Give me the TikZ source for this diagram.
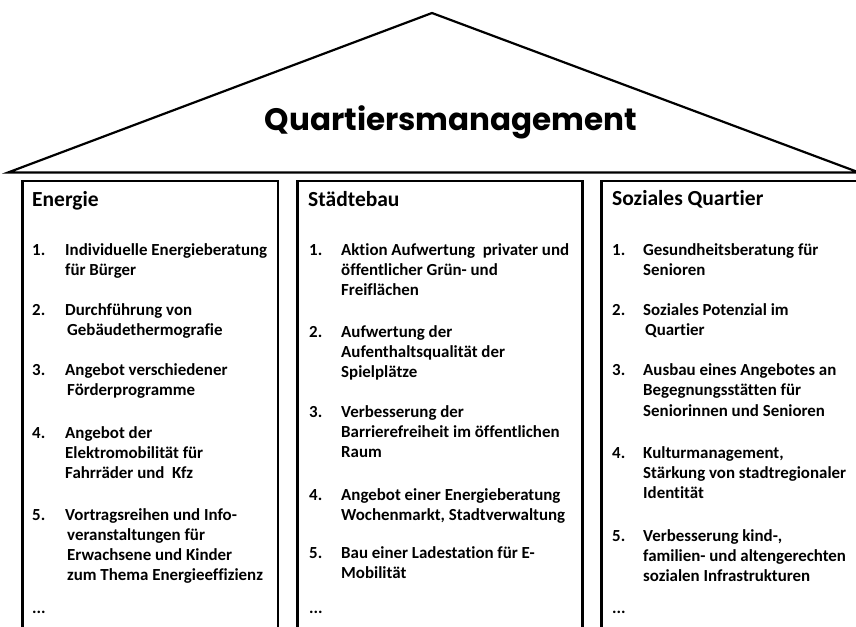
\documentclass[tikz,border=0pt]{standalone}
\usepackage{fontspec}
\setmainfont{Carlito}[Ligatures=CommonOff]
\newfontfamily\titlefont{Poppins}
\tikzset{
  roof/.style={draw=black, line width=2.2pt, line join=miter},
  pillar/.style={draw=black, line width=2.8pt},
  head/.style={anchor=base west, inner sep=0pt, font=\fontsize{21.5}{24}\selectfont\bfseries},
  itm/.style={anchor=base west, inner sep=0pt, font=\fontsize{16.9}{20}\selectfont\bfseries},
  ttl/.style={anchor=base, inner sep=0pt, font=\titlefont\bfseries\fontsize{31}{36}\selectfont}
}
\newcommand{\qln}[4]{\node[itm] (#1) at (#2,#3) {#4};}
\begin{document}
\begin{tikzpicture}[x=1pt,y=-1pt]
\useasboundingbox (0,0) rectangle (856,626);
\clip (0,0) rectangle (856,626);
\fill[white] (0,0) rectangle (856,626);
% roof
\coordinate (rl) at (8,172.5);
\coordinate (ra) at (432,13);
\coordinate (rr) at (859,172.5);
\draw[roof] (rl) -- (ra) -- (rr) -- cycle;
\node[ttl] (title) at (451,130) {Quartiersmanagement};
% pillars
\draw[pillar] (22.5,181) rectangle (278,660);
\draw[pillar] (297.5,181) rectangle (582.5,660);
\draw[pillar] (601.5,181) rectangle (880,660);
% Box 1
\node[head] (h1) at (32,206) {Energie};
\qln{a1n}{32}{255}{1.}
\qln{a1a}{65}{255}{Individuelle Energieberatung}
\qln{a1b}{65}{275}{für Bürger}
\qln{a2n}{32}{315}{2.}
\qln{a2a}{65}{315}{Durchführung von}
\qln{a2b}{67}{335}{Gebäudethermografie}
\qln{a3n}{32}{375}{3.}
\qln{a3a}{65}{375}{Angebot verschiedener}
\qln{a3b}{67}{395}{Förderprogramme}
\qln{a4n}{32}{438}{4.}
\qln{a4a}{65}{438}{Angebot der}
\qln{a4b}{65}{458}{Elektromobilität für}
\qln{a4c}{65}{478}{Fahrräder und\ \ Kfz}
\qln{a5n}{32}{520}{5.}
\qln{a5a}{65}{520}{Vortragsreihen und Info-}
\qln{a5b}{67}{540}{veranstaltungen für}
\qln{a5c}{67}{560}{Erwachsene und Kinder}
\qln{a5d}{67}{580}{zum Thema Energieeffizienz}
\qln{a6}{32}{613}{...}
% Box 2
\node[head] (h2) at (308,206) {Städtebau};
\qln{b1n}{309}{255}{1.}
\qln{b1a}{341}{255}{Aktion Aufwertung\ \ privater und}
\qln{b1b}{341}{275}{öffentlicher Grün- und}
\qln{b1c}{341}{295}{Freiflächen}
\qln{b2n}{309}{337}{2.}
\qln{b2a}{341}{337}{Aufwertung der}
\qln{b2b}{341}{357}{Aufenthaltsqualität der}
\qln{b2c}{341}{377}{Spielplätze}
\qln{b3n}{309}{417}{3.}
\qln{b3a}{341}{417}{Verbesserung der}
\qln{b3b}{341}{437}{Barrierefreiheit im öffentlichen}
\qln{b3c}{341}{457}{Raum}
\qln{b4n}{309}{500}{4.}
\qln{b4a}{341}{500}{Angebot einer Energieberatung}
\qln{b4b}{341}{520}{Wochenmarkt, Stadtverwaltung}
\qln{b5n}{309}{558}{5.}
\qln{b5a}{341}{558}{Bau einer Ladestation für E-}
\qln{b5b}{341}{578}{Mobilität}
\qln{b6}{309}{613}{...}
% Box 3
\node[head] (h3) at (612,205) {Soziales Quartier};
\qln{c1n}{612}{255}{1.}
\qln{c1a}{643}{255}{Gesundheitsberatung für}
\qln{c1b}{643}{275}{Senioren}
\qln{c2n}{612}{315}{2.}
\qln{c2a}{643}{315}{Soziales Potenzial im}
\qln{c2b}{645}{335}{Quartier}
\qln{c3n}{612}{375}{3.}
\qln{c3a}{643}{375}{Ausbau eines Angebotes an}
\qln{c3b}{643}{395}{Begegnungsstätten für}
\qln{c3c}{643}{416}{Seniorinnen und Senioren}
\qln{c4n}{612}{458}{4.}
\qln{c4a}{643}{458}{Kulturmanagement,}
\qln{c4b}{643}{478}{Stärkung von stadtregionaler}
\qln{c4c}{643}{498}{Identität}
\qln{c5n}{612}{541}{5.}
\qln{c5a}{643}{541}{Verbesserung kind-,}
\qln{c5b}{643}{561}{familien- und altengerechten}
\qln{c5c}{643}{581}{sozialen Infrastrukturen}
\qln{c6}{612}{613}{...}
\end{tikzpicture}
\end{document}
